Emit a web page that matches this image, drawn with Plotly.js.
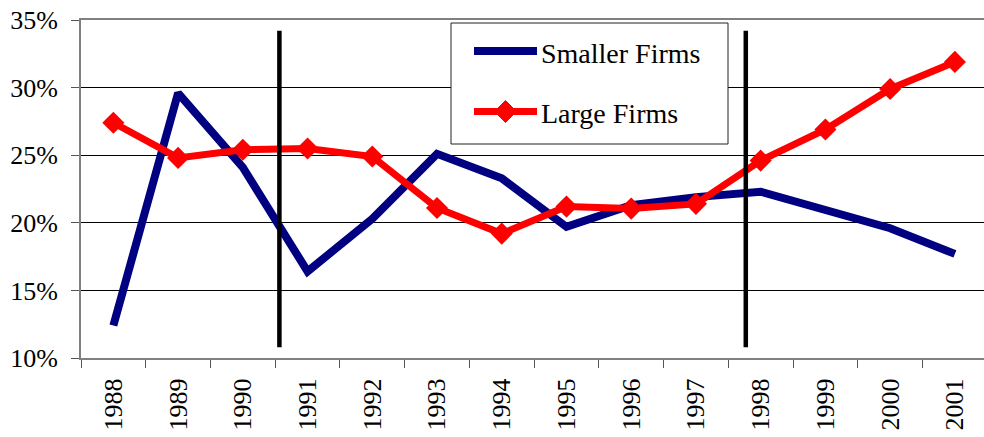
<!DOCTYPE html>
<html>
<head>
<meta charset="utf-8">
<script src="https://cdn.plot.ly/plotly-3.0.1.min.js"></script>
<style>
html,body{margin:0;padding:0;background:#fff;font-family:'Liberation Serif',serif;}
#chart{width:984px;height:437px;}
#chart text{font-family:'Liberation Serif',serif !important;}
</style>
</head>
<body>
<div id="chart"></div>
<script>
const years = ['1988','1989','1990','1991','1992','1993','1994','1995','1996','1997','1998','1999','2000','2001'];
const smallerFirms = [12.4, 29.6, 24.1, 16.4, 20.3, 25.1, 23.3, 19.7, 21.3, 21.9, 22.3, 20.9, 19.6, 17.7];
const largeFirms   = [27.4, 24.8, 25.4, 25.5, 24.9, 21.1, 19.2, 21.2, 21.05, 21.4, 24.6, 26.9, 29.9, 31.9];
const seriesNames = ['Smaller Firms', 'Large Firms'];
const dividerPositions = [2.565, 9.77];   // category-axis positions of the two vertical markers
const dividerSpan = [10.8, 34.2];          // vertical extent, in % units
const yTicks = [10, 15, 20, 25, 30, 35];

const FONT = 'Liberation Serif';
const NAVY = '#000080', RED = '#FF0000';

const traces = [
  {x: years, y: smallerFirms, name: seriesNames[0], type: 'scatter', mode: 'lines',
   line: {color: NAVY, width: 8}},
  {x: years, y: largeFirms, name: seriesNames[1], type: 'scatter', mode: 'lines+markers',
   line: {color: RED, width: 7},
   marker: {symbol: 'diamond', size: 17, color: RED}}
];

// pixel -> paper helpers for the legend box
const L = 81, T = 20, W = 903, H = 338;
const px = v => (v - L) / W;
const py = v => (T + H - v) / H;

const shapes = dividerPositions.map(p => ({
  type: 'line', xref: 'x', yref: 'y', x0: p, x1: p, y0: dividerSpan[0], y1: dividerSpan[1],
  line: {color: '#000', width: 4.5}, layer: 'above'
}));
shapes.push({type: 'rect', xref: 'paper', yref: 'paper', x0: px(451), x1: px(728), y0: py(144), y1: py(23),
  line: {color: '#222', width: 1}, fillcolor: '#fff', layer: 'above'});
shapes.push({type: 'line', xref: 'paper', yref: 'paper', x0: px(474), x1: px(537), y0: py(51), y1: py(51),
  line: {color: NAVY, width: 8}, layer: 'above'});
shapes.push({type: 'line', xref: 'paper', yref: 'paper', x0: px(474), x1: px(537), y0: py(111.5), y1: py(111.5),
  line: {color: RED, width: 7}, layer: 'above'});
shapes.push({type: 'path', xref: 'paper', yref: 'paper', xsizemode: 'pixel', ysizemode: 'pixel',
  xanchor: px(505.5), yanchor: py(111.5), path: 'M-11,0 L0,11 L11,0 L0,-11 Z',
  fillcolor: RED, line: {color: RED, width: 1}, layer: 'above'});

const annotations = [
  {text: seriesNames[0], xref: 'paper', yref: 'paper', x: px(539), y: py(54), xanchor: 'left', yanchor: 'middle',
   showarrow: false, font: {family: FONT, size: 28, color: '#000'}},
  {text: seriesNames[1], xref: 'paper', yref: 'paper', x: px(539), y: py(114), xanchor: 'left', yanchor: 'middle',
   showarrow: false, font: {family: FONT, size: 28, color: '#000'}}
];

const layout = {
  width: 984, height: 437,
  margin: {l: L, r: 0, t: T, b: 437 - T - H},
  paper_bgcolor: '#fff', plot_bgcolor: '#fff',
  showlegend: false,
  font: {family: FONT, color: '#000', size: 26},
  xaxis: {
    type: 'category', range: [-0.5, 13.45], tickangle: -90, tickson: 'boundaries',
    ticks: 'outside', ticklen: 8, tickcolor: '#555', showgrid: false,
    showline: true, linecolor: '#808080', linewidth: 2, mirror: true,
    tickfont: {family: FONT, size: 26, color: '#000'}, ticklabelstandoff: 8, zeroline: false
  },
  yaxis: {
    range: [10, 35], tickvals: yTicks, ticktext: yTicks.map(v => v + '%'),
    ticks: 'outside', ticklen: 8, tickcolor: '#555',
    showgrid: true, gridcolor: '#000', gridwidth: 1,
    showline: true, linecolor: '#808080', linewidth: 2, zeroline: false,
    tickfont: {family: FONT, size: 26, color: '#000'}, ticklabelstandoff: 8
  },
  shapes: shapes,
  annotations: annotations
};

Plotly.newPlot('chart', traces, layout, {displayModeBar: false, staticPlot: true});
</script>
</body>
</html>
